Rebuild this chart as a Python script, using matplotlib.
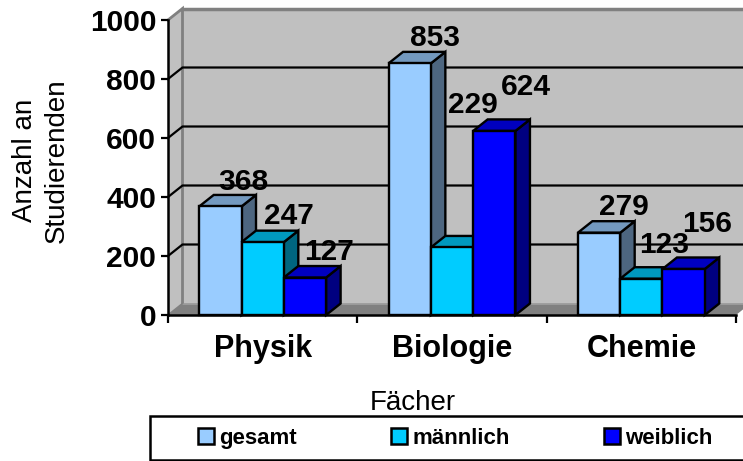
import matplotlib
matplotlib.use("Agg")
import matplotlib.pyplot as plt
from matplotlib.patches import Polygon, Rectangle, Patch

plt.rcParams['font.family'] = ['Liberation Sans', 'DejaVu Sans']

categories = ["Physik", "Biologie", "Chemie"]
series_names = ["gesamt", "männlich", "weiblich"]
gesamt = [368, 853, 279]
maennlich = [247, 229, 123]
weiblich = [127, 624, 156]
yticks = [0, 200, 400, 600, 800, 1000]

front = ["#99CCFF", "#00CCFF", "#0000FF"]
top = ["#7399BF", "#0099BF", "#0000BF"]
side = ["#4D6680", "#006680", "#000080"]

# label offsets from bar-top centre, in pixels (x right, y up)
label_offsets = [
    [(23, 24), (25, 25), (25, 26)],
    [(26, 26), (21, 142), (23, 34)],
    [(24, 26), (32, 44), (23, 45)],
]

W, H = 743, 461
fig = plt.figure(figsize=(W / 100, H / 100), dpi=100, facecolor="white")
L, R, T, B = 168, 736, 20, 315
ax = fig.add_axes([L / W, 1 - B / H, (R - L) / W, (B - T) / H])
ax.set_xlim(0, 3)
ax.set_ylim(0, 1000)
ax.patch.set_visible(False)

dx = 14.5 / (R - L) * 3
dy = 11.5 / (B - T) * 1000
bar_w = 42.3 / (R - L) * 3
EW = 1.7

def poly(pts, fc, ec="none", lw=0, z=1):
    ax.add_patch(Polygon(pts, closed=True, fc=fc, ec=ec, lw=lw, zorder=z,
                         clip_on=False, joinstyle="miter"))

# walls and floor
poly([(dx, dy), (3 + dx, dy), (3 + dx, 1000 + dy), (dx, 1000 + dy)], "#C0C0C0", z=1)
poly([(0, 0), (dx, dy), (dx, 1000 + dy), (0, 1000)], "#C0C0C0", z=1)
poly([(0, 0), (3, 0), (3 + dx, dy), (dx, dy)], "#808080", z=1.2)
ax.plot([0, dx, dx], [1000, 1000 + dy, dy], color="#808080", lw=2, zorder=1.3,
        clip_on=False, solid_joinstyle="miter")
ax.plot([dx, 3 + dx], [1000 + dy] * 2, color="#808080", lw=2.5, zorder=1.3, clip_on=False)
ax.plot([dx, 3 + dx], [dy] * 2, color="#A0A0A0", lw=1.2, zorder=1.3, clip_on=False)
ax.plot([0, dx], [0, dy], color="#808080", lw=1.2, zorder=1.3, clip_on=False)

# gridlines on the back and side walls
for v in yticks[1:-1]:
    ax.plot([0, dx, 3 + dx], [v, v + dy, v + dy], color="black", lw=1.6, zorder=1.5,
            clip_on=False)

# bars
all_series = [gesamt, maennlich, weiblich]
z = 2
for c in range(len(categories)):
    for s, vals in enumerate(all_series):
        v = vals[c]
        x0 = c + 0.5 + (s - 1.5) * bar_w
        x1 = x0 + bar_w
        poly([(x1, 0), (x1 + dx, dy), (x1 + dx, v + dy), (x1, v)], side[s], "black", EW, z)
        poly([(x0, v), (x1, v), (x1 + dx, v + dy), (x0 + dx, v + dy)], top[s], "black", EW, z)
        ax.bar(x0, v, width=bar_w, align="edge", color=front[s], edgecolor="black",
               linewidth=EW, zorder=z + 0.1, clip_on=False)
        z += 1

# data labels
for s, vals in enumerate(all_series):
    for c, v in enumerate(vals):
        xc = c + 0.5 + (s - 1) * bar_w
        ox, oy = label_offsets[s][c]
        ax.annotate(str(v), (xc, v), xytext=(ox * 0.72, oy * 0.72),
                    textcoords="offset points", ha="center", va="center",
                    fontsize=21.5, fontweight="bold", color="black", zorder=100,
                    annotation_clip=False)

# axes
for sp in ("top", "right"):
    ax.spines[sp].set_visible(False)
for sp in ("left", "bottom"):
    ax.spines[sp].set_linewidth(1.8)
    ax.spines[sp].set_zorder(50)
ax.set_yticks(yticks)
ax.tick_params(axis="y", length=5, width=1.6, pad=3.5, labelsize=21.5)
for t in ax.get_yticklabels():
    t.set_fontweight("bold")
ax.set_xticks([0, 1, 2, 3])
ax.set_xticklabels([])
ax.tick_params(axis="x", which="major", length=5.5, width=1.6)
ax.set_xticks([0.5, 1.5, 2.5], minor=True)
ax.set_xticklabels(categories, minor=True, fontsize=22, fontweight="bold")
ax.tick_params(axis="x", which="minor", length=0, pad=14)

ax.set_xlabel("Fächer", fontsize=20)
ax.xaxis.set_label_coords((413 - L) / (R - L), -(403 - B) / (B - T), transform=ax.transAxes)
ax.xaxis.label.set_verticalalignment("center")
ax.set_ylabel("Anzahl an\nStudierenden", fontsize=20, linespacing=1.26)
ax.yaxis.set_label_coords((41 - L) / (R - L), (B - 160.5) / (B - T), transform=ax.transAxes)
ax.yaxis.label.set_verticalalignment("center")

# legend
fig.add_artist(Rectangle((150 / W, 1 - 460 / H), 640 / W, 44 / H, fc="white", ec="black",
                         lw=1.8, transform=fig.transFigure))
handles = [Patch(fc=f, ec="black", lw=1.8) for f in front]
leg = fig.legend(handles, series_names, ncol=3, frameon=False,
                 loc="center left", bbox_to_anchor=(198 / W, 1 - 438.5 / H),
                 borderaxespad=0, borderpad=0,
                 prop={"size": 16, "weight": "bold"},
                 handlelength=0.72, handleheight=0.72, handletextpad=0.25,
                 columnspacing=4.22)

fig.savefig("out.png", dpi=100)
